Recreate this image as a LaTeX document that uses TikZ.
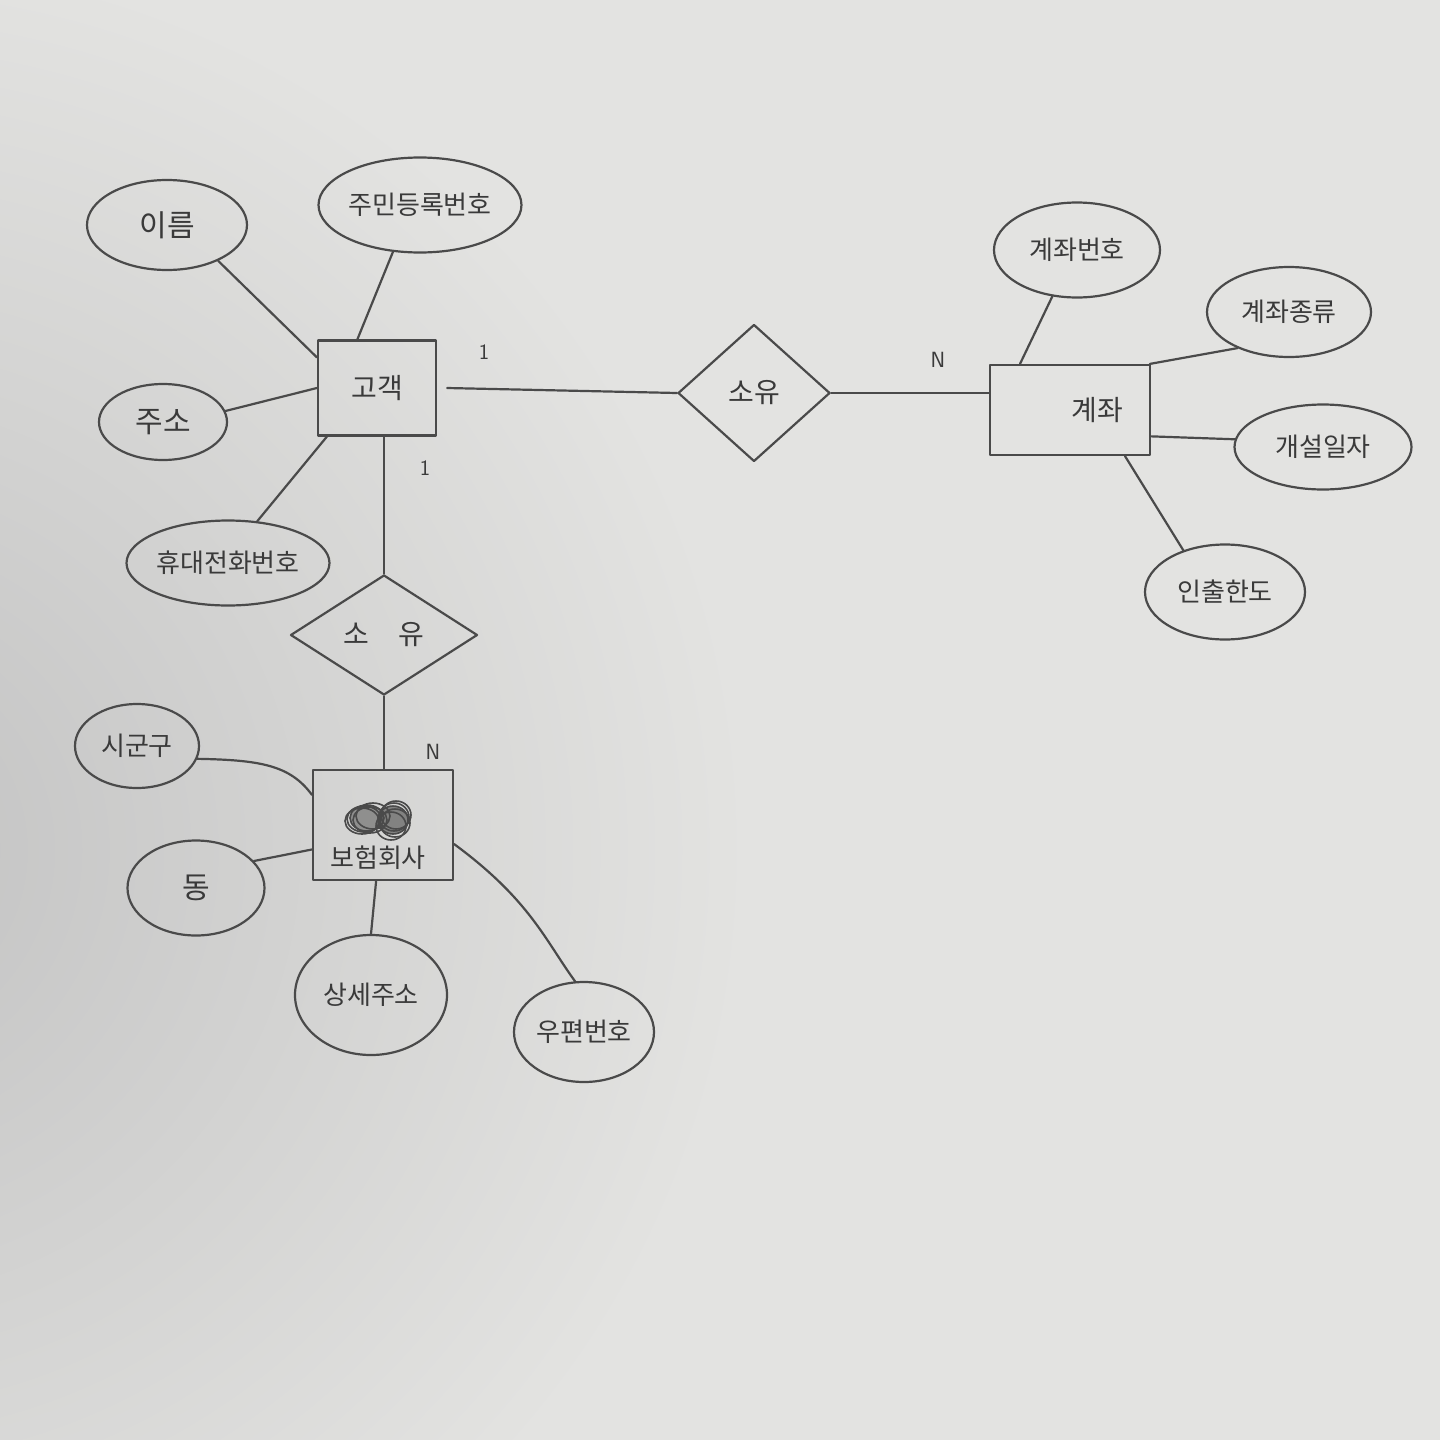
\documentclass[tikz,border=0pt]{standalone}
\usepackage{fontspec}
\newfontfamily\kr{Noto Sans CJK KR}
\usetikzlibrary{shapes.geometric}
\definecolor{ink}{HTML}{4A4A4A}
\definecolor{txt}{HTML}{3A3A3A}
\definecolor{paper}{HTML}{E3E3E1}
\definecolor{shadow}{HTML}{C2C2C2}
\tikzset{
  pen/.style={draw=ink, line width=2.2pt, line cap=round, line join=round},
  attr/.style={pen, ellipse, inner sep=0pt, text=txt, font=\kr\fontsize{26}{26}\selectfont},
  ent/.style={pen, rectangle, inner sep=0pt, text=txt, font=\kr\fontsize{28}{28}\selectfont},
  rel/.style={pen, diamond, inner sep=0pt, text=txt, font=\kr\fontsize{28}{28}\selectfont},
  link/.style={pen},
  card/.style={text=txt, font=\sffamily\fontsize{22}{22}\selectfont}
}
\begin{document}
\begin{tikzpicture}[x=1pt,y=-1pt]
\useasboundingbox (0,0) rectangle (1440,1440);
\fill[paper] (0,0) rectangle (1440,1440);
\begin{scope}
\clip (0,0) rectangle (1440,1440);
\shade[inner color=shadow, outer color=paper] (-150,850) circle (900);
\end{scope}

% entities
\node[ent, minimum width=118pt, minimum height=95pt] (kg) at (377,388) {고객};
\node[ent, minimum width=160pt, minimum height=90pt] (acc) at (1070,410) {\hspace{55pt}계좌};
\node[ent, minimum width=140pt, minimum height=110pt] (ins) at (383,825) {};
\node[text=txt, font=\kr\fontsize{26}{26}\selectfont] (insl) at (378,858) {보험회사};
\fill[ink, opacity=0.5] (367,818) ellipse (17 and 13);
\fill[ink, opacity=0.6] (394,820) ellipse (15 and 14);
\foreach \a/\b in {0/0,3/2,-3/1,6/-2,-5/3}{
  \draw[ink, line width=1.6pt] (367+\a,818+\b) ellipse (17 and 13);
  \draw[ink, line width=1.6pt] (393+\b,820+\a) ellipse (15 and 14);
}

% relationships
\node[rel, minimum width=187pt, minimum height=120pt] (own2) at (384,635) {소\hspace{30pt}유};
\node[rel, minimum width=152pt, minimum height=137pt] (own1) at (754,393) {소유};

% attributes
\node[attr, minimum width=160pt, minimum height=90pt, font=\kr\fontsize{30}{30}\selectfont] (name) at (167,225) {이름};
\node[attr, minimum width=200pt, minimum height=95pt] (rrn) at (420,205) {주민등록번호};
\node[attr, minimum width=128pt, minimum height=76pt, font=\kr\fontsize{30}{30}\selectfont] (addr) at (163,422) {주소};
\node[attr, minimum width=195pt, minimum height=85pt] (phone) at (228,563) {휴대전화번호};
\node[attr, minimum width=124pt, minimum height=84pt] (sgg) at (137,746) {시군구};
\node[attr, minimum width=137pt, minimum height=95pt, font=\kr\fontsize{30}{30}\selectfont] (dong) at (196,888) {동};
\node[attr, minimum width=152pt, minimum height=120pt] (detail) at (371,995) {상세주소};
\node[attr, minimum width=140pt, minimum height=100pt] (zip) at (584,1032) {우편번호};
\node[attr, minimum width=166pt, minimum height=95pt] (accno) at (1077,250) {계좌번호};
\node[attr, minimum width=164pt, minimum height=90pt] (acctype) at (1289,312) {계좌종류};
\node[attr, minimum width=177pt, minimum height=85pt] (opendate) at (1323,447) {개설일자};
\node[attr, minimum width=160pt, minimum height=95pt] (limit) at (1225,592) {인출한도};

% connectors
\draw[link] (kg.153) -- (name.-35);
\draw[link] (kg.112) -- (rrn.-120);
\draw[link] (kg.180) -- (addr.10);
\draw[link] ([xshift=10pt]kg.south west) -- (phone.55);
\draw[link] (own2.north |- kg.south) -- (own2.north);
\draw[link] (own2.south) -- (own2.south |- ins.north);
\draw[link] ([xshift=10pt]kg.east) -- (own1.west);
\draw[link] (own1.east) -- (own1.east -| acc.west);
\draw[link] ([xshift=-50pt]acc.north) -- (accno.-118);
\draw[link] (acc.30) -- (acctype.-145);
\draw[link] (acc.-18) -- (opendate.175);
\draw[link] ([xshift=55pt]acc.south) -- (limit.135);
\draw[link] (ins.157) .. controls (290,765) and (260,760) .. (sgg.-12);
\draw[link] (ins.199) -- (dong.25);
\draw[link] (ins.-97) -- (detail.north);
\draw[link] (ins.-15) .. controls (530,900) and (545,940) .. (zip.100);

% cardinalities
\node[card] (c1) at (484,352) {1};
\node[card] (c2) at (425,468) {1};
\node[card] (c3) at (938,360) {N};
\node[card] (c4) at (433,752) {N};
\end{tikzpicture}
\end{document}
